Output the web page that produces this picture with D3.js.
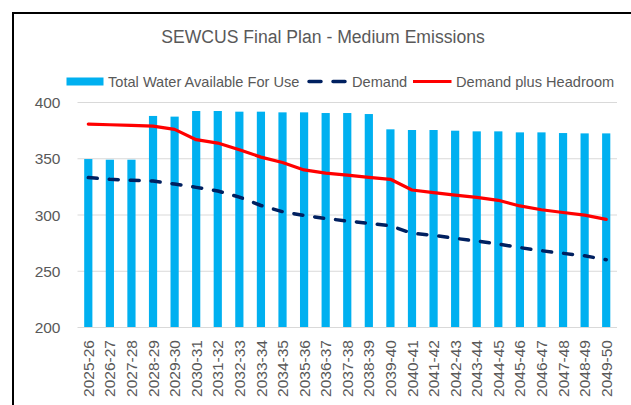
<!DOCTYPE html>
<html>
<head>
<meta charset="utf-8">
<script src="https://cdn.jsdelivr.net/npm/d3@7"></script>
<style>
  body { margin: 0; background: #fff; }
  svg { display: block; font-family: "Liberation Sans", Arial, sans-serif; }
</style>
</head>
<body>
<svg id="chart" width="631" height="405"></svg>
<script>
const years = ['2025-26', '2026-27', '2027-28', '2028-29', '2029-30', '2030-31', '2031-32',
  '2032-33', '2033-34', '2034-35', '2035-36', '2036-37', '2037-38', '2038-39', '2039-40',
  '2040-41', '2041-42', '2042-43', '2043-44', '2044-45', '2045-46', '2046-47', '2047-48',
  '2048-49', '2049-50'];

const totalWater = [349.3, 348.7, 348.7, 387.6, 387.0, 392.0, 392.0, 391.4, 391.4, 390.8,
  390.8, 390.2, 390.2, 389.3, 375.7, 375.1, 375.1, 374.5, 373.9, 373.9, 373.0, 373.0,
  372.4, 372.1, 372.1];

const demand = [332.8, 331.3, 330.4, 329.8, 327.1, 324.1, 320.9, 315.5, 308.0, 302.5,
  299.2, 296.5, 294.2, 292.2, 290.0, 283.3, 281.5, 278.8, 276.5, 273.8, 270.6, 267.8,
  265.5, 263.3, 259.8];

const headroom = [380.4, 379.8, 379.3, 378.6, 375.7, 366.5, 363.5, 357.6, 351.0, 346.2,
  339.6, 336.8, 335.0, 333.0, 331.3, 321.8, 319.4, 317.3, 315.2, 312.6, 307.6, 304.2,
  301.8, 299.5, 295.7];

const yTicks = [200, 250, 300, 350, 400];

const TEXT = '#595959';
const svg = d3.select('#chart');

// frame (cut off on the right and bottom)
svg.append('path')
  .attr('d', 'M13,405V13H631')
  .attr('fill', 'none')
  .attr('stroke', '#000')
  .attr('stroke-width', 2);

const x = d3.scaleBand().domain(years).range([77.5, 617]);
const y = d3.scaleLinear().domain([200, 400]).range([327, 102]);
const cx = d => x(d) + x.bandwidth() / 2;

// gridlines + y labels
const yAxis = d3.axisLeft(y).tickValues(yTicks).tickSize(-(617 - 77.5)).tickPadding(17);
const gy = svg.append('g').attr('transform', 'translate(77.5,0)').call(yAxis);
gy.select('.domain').remove();
gy.selectAll('.tick line').attr('stroke', '#d9d9d9').attr('stroke-width', 1);
gy.selectAll('.tick text')
  .attr('fill', TEXT)
  .style('font-size', '15.5px')
  .attr('dy', '0.36em');

// bars
const barW = x.bandwidth() * 0.38;
svg.append('g').selectAll('rect')
  .data(totalWater)
  .join('rect')
  .attr('x', (d, i) => cx(years[i]) - barW / 2)
  .attr('y', d => y(d))
  .attr('width', barW)
  .attr('height', d => y(200) - y(d))
  .attr('fill', '#00b0f0');

// x labels
svg.append('g').selectAll('text')
  .data(years)
  .join('text')
  .attr('transform', d => `translate(${cx(d)},340) rotate(-90)`)
  .attr('text-anchor', 'end')
  .attr('dy', '0.36em')
  .attr('fill', TEXT)
  .style('font-size', '15.5px')
  .text(d => d);

// lines
const line = d3.line()
  .x((d, i) => cx(years[i]))
  .y(d => y(d));

svg.append('path')
  .datum(demand)
  .attr('d', line)
  .attr('fill', 'none')
  .attr('stroke', '#002060')
  .attr('stroke-width', 3.5)
  .attr('stroke-linecap', 'round')
  .attr('stroke-dasharray', '9,12');

svg.append('path')
  .datum(headroom)
  .attr('d', line)
  .attr('fill', 'none')
  .attr('stroke', '#ff0000')
  .attr('stroke-width', 3.2)
  .attr('stroke-linejoin', 'round')
  .attr('stroke-linecap', 'round');

// title
svg.append('text')
  .attr('x', 323)
  .attr('y', 43)
  .attr('text-anchor', 'middle')
  .attr('fill', TEXT)
  .style('font-size', '17.6px')
  .text('SEWCUS Final Plan - Medium Emissions');

// legend
const lg = svg.append('g').style('font-size', '14.6px').attr('fill', TEXT);
lg.append('rect').attr('x', 66.5).attr('y', 77.5).attr('width', 37).attr('height', 8).attr('fill', '#00b0f0');
lg.append('text').attr('x', 108).attr('y', 86.5).text('Total Water Available For Use');
lg.append('path').attr('d', 'M309,81.5H347')
  .attr('stroke', '#002060').attr('stroke-width', 3.5)
  .attr('stroke-linecap', 'round').attr('stroke-dasharray', '12,12');
lg.append('text').attr('x', 352).attr('y', 86.5).text('Demand');
lg.append('path').attr('d', 'M413,81.5H451.5')
  .attr('stroke', '#ff0000').attr('stroke-width', 3.2);
lg.append('text').attr('x', 456).attr('y', 86.5).text('Demand plus Headroom');
</script>
</body>
</html>
